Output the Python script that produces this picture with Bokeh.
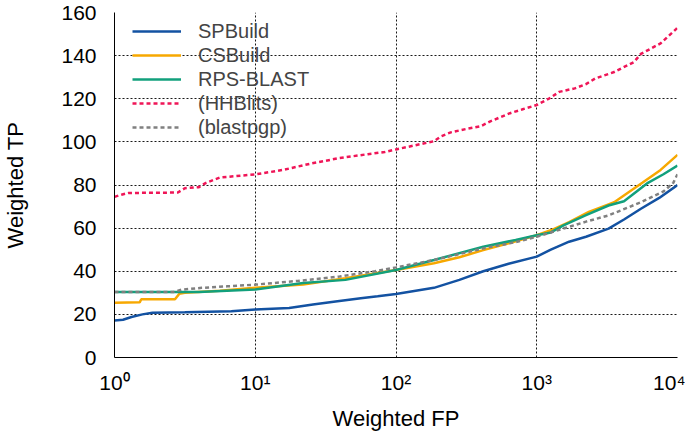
from bokeh.plotting import figure
from bokeh.models import FixedTicker, Legend, LegendItem
from bokeh.embed import file_html
from bokeh.resources import INLINE

# ---- data ----
sp_fp = [1, 1.15, 1.32, 1.58, 1.86, 3.16, 6.76, 10, 17.4, 25.7, 37.2, 56.2, 74.1, 100,
         186, 282, 417, 631, 1000, 1259, 1698, 2239, 3236, 4169, 5495, 7413, 10000]
sp_tp = [17.2, 17.5, 18.8, 20.0, 20.8, 21.0, 21.5, 22.3, 23.0, 24.6, 26.0, 27.5, 28.4, 29.5,
         32.3, 36.0, 40.0, 43.5, 46.8, 50.0, 53.7, 56.0, 59.8, 64.0, 69.0, 74.0, 80.0]

cs_fp = [1, 1.51, 1.55, 2.69, 2.88, 3.16, 5.62, 10, 21.9, 43.7, 100, 186, 282, 417, 631,
         1000, 1259, 1698, 2344, 3236, 3548, 5623, 7586, 10000]
cs_tp = [25.4, 25.6, 27.0, 27.0, 29.5, 30.0, 31.0, 32.3, 33.8, 36.8, 40.6, 43.7, 46.5, 49.8, 53.0,
         56.7, 59.0, 62.8, 67.5, 71.0, 72.0, 81.0, 87.0, 94.0]

rps_fp = [1, 3.98, 6.31, 10, 21.9, 43.7, 100, 186, 417, 708, 1000, 1259, 1549, 2239, 3236,
          4169, 6166, 7943, 10000]
rps_tp = [30.4, 30.4, 31.0, 31.5, 34.6, 36.0, 40.6, 45.2, 51.4, 54.5, 56.7, 58.0, 61.3, 66.0, 70.5,
          72.5, 81.0, 85.0, 89.0]

hh_fp = [1, 1.12, 1.26, 2.82, 3.16, 3.98, 4.47, 5.62, 10, 15.8, 25.1, 39.8, 63.1, 83.2, 100,
         186, 209, 245, 316, 398, 468, 646, 794, 1000, 1230, 1445, 1862, 2239, 2600, 3548,
         4898, 5495, 7586, 9772, 10000]
hh_tp = [74.5, 75.5, 76.3, 76.5, 78.5, 79.0, 81.0, 83.5, 84.9, 87.0, 90.0, 92.5, 94.3, 95.3, 96.5,
         100.3, 102.6, 104.4, 106.0, 107.2, 109.5, 113.3, 115.1, 117.1, 120.2, 123.2, 124.8, 126.8, 129.4, 132.4,
         137.0, 140.8, 145.7, 152.3, 153.0]

bp_fp = [1, 2.63, 3.02, 4.17, 6.31, 10, 20, 39.8, 70.8, 100, 186, 417, 708, 1000, 1549,
         2239, 3236, 5495, 7943, 9333, 10000]
bp_tp = [30.4, 30.4, 31.5, 32.3, 33.0, 33.8, 35.5, 37.6, 40.0, 41.8, 45.2, 50.6, 53.5, 56.0, 59.8,
         63.0, 65.9, 72.0, 77.0, 81.0, 85.0]

series_names = ["SPBuild", "CSBuild", "RPS-BLAST", "(HHBlits)", "(blastpgp)"]
x_ticks = [1, 10, 100, 1000, 10000]
x_tick_labels = ["10\u2070", "10\u00b9", "10\u00b2", "10\u00b3", "10\u2074"]
y_ticks = [0, 20, 40, 60, 80, 100, 120, 140, 160]

FONT = "Liberation Sans"

p = figure(width=685, height=433, x_axis_type="log", x_range=(1, 10000), y_range=(0, 160),
           output_backend="svg", toolbar_location=None,
           min_border_left=105, min_border_right=8, min_border_top=12, min_border_bottom=76)
p.outline_line_color = None
p.background_fill_color = "white"

# axes
p.xaxis.ticker = FixedTicker(ticks=x_ticks, minor_ticks=[])
p.xaxis.major_label_overrides = {t: l for t, l in zip(x_ticks, x_tick_labels)}
p.yaxis.ticker = FixedTicker(ticks=y_ticks, minor_ticks=[])
for ax in (p.xaxis[0], p.yaxis[0]):
    ax.major_tick_line_color = None
    ax.minor_tick_line_color = None
    ax.axis_line_color = "black"
    ax.axis_line_width = 1
    ax.major_label_text_font = FONT
    ax.major_label_text_color = "black"
    ax.axis_label_text_font = FONT
    ax.axis_label_text_font_style = "normal"
    ax.axis_label_text_color = "black"
p.xaxis.major_label_text_font_size = "21px"
p.yaxis.major_label_text_font_size = "21px"
p.xaxis.major_label_standoff = 7
p.yaxis.major_label_standoff = 12
p.xaxis.axis_label = "Weighted FP"
p.yaxis.axis_label = "Weighted TP"
p.xaxis.axis_label_text_font_size = "22px"
p.yaxis.axis_label_text_font_size = "22px"
p.xaxis.axis_label_standoff = 9
p.yaxis.axis_label_standoff = 30

for g in (p.xgrid[0], p.ygrid[0]):
    g.grid_line_color = "black"
    g.grid_line_dash = "2 2"
    g.grid_line_width = 1
    g.grid_line_alpha = 0.9

r_sp = p.line(sp_fp, sp_tp, line_color="#1352a2", line_width=2.5)
r_cs = p.line(cs_fp, cs_tp, line_color="#f7a800", line_width=2.5)
r_rps = p.line(rps_fp, rps_tp, line_color="#12a07c", line_width=2.5)
r_hh = p.line(hh_fp, hh_tp, line_color="#ef1557", line_width=2.5, line_dash="4 3")
r_bp = p.line(bp_fp, bp_tp, line_color="#808080", line_width=2.5, line_dash="4 3")

legend = Legend(items=[LegendItem(label=n, renderers=[r]) for n, r in
                       zip(series_names, [r_sp, r_cs, r_rps, r_hh, r_bp])],
                location=(18, 218), margin=0, padding=0, spacing=0,
                glyph_width=49, glyph_height=24, label_height=24, label_standoff=17,
                label_text_font=FONT, label_text_font_size="20px",
                background_fill_alpha=0, border_line_alpha=0)
p.add_layout(legend)

open("out.html", "w").write(file_html(p, INLINE))
